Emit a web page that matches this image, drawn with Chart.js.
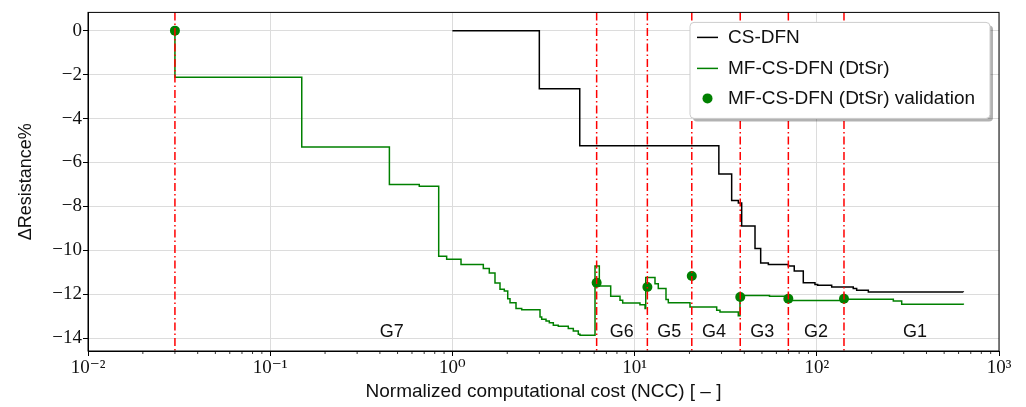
<!DOCTYPE html>
<html lang="en">
<head>
    <meta charset="UTF-8">
    <title>Resistance vs NCC</title>
    <script src="https://cdn.jsdelivr.net/npm/chart.js@4.4.0/dist/chart.umd.min.js"></script>
    <style>
        html, body { margin: 0; padding: 0; background: #fff; }
    </style>
</head>
<body>
<canvas id="myChart" width="1026" height="407"></canvas>
<script>
    // CS-DFN reference curve (value changes to y at x)
    var csX = [1.0, 3.0, 5.0, 29.0, 34.1, 37.1, 38.7, 45.8, 49.2, 54.2, 69.8, 75.2, 84.3, 97.7, 101.1, 120.7, 158.5, 165.5, 191.8, 637];
    var csY = [0, -2.65, -5.24, -6.52, -7.73, -7.85, -8.89, -9.92, -10.58, -10.64, -10.71, -10.94, -11.47, -11.55, -11.59, -11.67, -11.74, -11.82, -11.89, -11.9];

    // MF-CS-DFN (DtSr)
    var mfX = [0.030, 0.030, 0.149, 0.451, 0.658, 0.841, 0.930, 1.115, 1.478, 1.594, 1.713, 1.825, 1.927, 2.012, 2.071, 2.234, 2.401,
        3.026, 3.091, 3.265, 3.403, 3.580, 3.813, 4.326, 4.609, 4.909, 5.015, 6.064, 6.403, 7.393, 8.316, 8.604, 10.70, 11.41, 11.51,
        12.94, 13.49, 14.87, 15.31, 20.14, 28.22, 29.42, 37.08, 37.88, 55.0, 69.76, 141.0, 263.0, 292.4, 637];
    var mfY = [0, -2.12, -5.30, -7.00, -7.08, -10.27, -10.41, -10.64, -10.83, -11.03, -11.48, -11.77, -11.85, -12.20, -12.38, -12.65, -12.70,
        -13.03, -13.14, -13.21, -13.30, -13.41, -13.45, -13.56, -13.67, -13.82, -13.86, -10.71, -11.62, -12.09, -12.27, -12.39, -12.47, -12.65, -11.24,
        -11.52, -11.74, -12.24, -12.38, -12.58, -12.73, -12.80, -12.98, -12.05, -12.09, -12.28, -12.23, -12.30, -12.45, -12.48];

    // validation points
    var valX = [0.030, 6.19, 11.75, 20.6, 38.0, 69.8, 141];
    var valY = [0, -11.47, -11.67, -11.17, -12.12, -12.20, -12.20];

    // fidelity switch boundaries and group labels
    var stageX = [0.030, 6.19, 11.75, 20.6, 38.0, 69.8, 141];
    var groupNames = ['G7', 'G6', 'G5', 'G4', 'G3', 'G2', 'G1'];
    var groupX = [0.464, 8.50, 15.5, 27.3, 50.2, 99.0, 346];
    var groupY = -13.71;

    var xTickValues = [0.01, 0.1, 1, 10, 100, 1000];
    var xTickLabels = ['10\u207B\u00B2', '10\u207B\u00B9', '10\u2070', '10\u00B9', '10\u00B2', '10\u00B3'];
    var yTickValues = [0, -2, -4, -6, -8, -10, -12, -14];

    var sans = '"Liberation Sans", Arial, sans-serif';
    var serif = '"Liberation Serif", "DejaVu Serif", serif';

    function pts(xs, ys) {
        return xs.map(function (v, i) { return {x: v, y: ys[i]}; });
    }

    var frameAndStages = {
        id: 'frameAndStages',
        afterDatasetsDraw: function (chart) {
            var ctx = chart.ctx, a = chart.chartArea, x = chart.scales.x, y = chart.scales.y;
            ctx.save();
            // minor ticks on the log axis
            ctx.strokeStyle = '#000';
            ctx.lineWidth = 0.8;
            for (var d = 0; d < xTickValues.length - 1; d++) {
                for (var k = 2; k < 10; k++) {
                    var px = x.getPixelForValue(xTickValues[d] * k);
                    ctx.beginPath();
                    ctx.moveTo(px, a.bottom);
                    ctx.lineTo(px, a.bottom + 3);
                    ctx.stroke();
                }
            }
            // red dash-dot lines
            ctx.strokeStyle = 'red';
            ctx.lineWidth = 1.5;
            ctx.setLineDash([8, 3, 1.5, 3]);
            stageX.forEach(function (v) {
                var px = x.getPixelForValue(v);
                ctx.beginPath();
                ctx.moveTo(px, a.top);
                ctx.lineTo(px, a.bottom);
                ctx.stroke();
            });
            ctx.setLineDash([]);
            // group names
            ctx.fillStyle = '#111';
            ctx.font = '18px ' + sans;
            ctx.textAlign = 'center';
            ctx.textBaseline = 'middle';
            groupNames.forEach(function (g, i) {
                ctx.fillText(g, x.getPixelForValue(groupX[i]), y.getPixelForValue(groupY));
            });
            // box
            ctx.strokeStyle = '#000';
            ctx.lineWidth = 1;
            ctx.strokeRect(a.left, a.top, a.right - a.left, a.bottom - a.top);
            ctx.restore();
        }
    };

    var boxLegend = {
        id: 'boxLegend',
        afterDraw: function (chart) {
            var ctx = chart.ctx, a = chart.chartArea;
            var bx = a.right - 309, by = a.top + 10, bw = 300, bh = 96;
            ctx.save();
            ctx.fillStyle = 'rgba(0,0,0,0.3)';
            ctx.beginPath();
            ctx.roundRect(bx + 3, by + 3, bw, bh, 4);
            ctx.fill();
            ctx.fillStyle = '#fff';
            ctx.strokeStyle = '#cccccc';
            ctx.lineWidth = 1;
            ctx.beginPath();
            ctx.roundRect(bx, by, bw, bh, 4);
            ctx.fill();
            ctx.stroke();
            ctx.font = '19px ' + sans;
            ctx.textBaseline = 'middle';
            ctx.textAlign = 'left';
            var rows = [15, 46, 76];
            chart.data.datasets.forEach(function (ds, i) {
                var ry = by + rows[i];
                if (ds.showLine === false) {
                    ctx.fillStyle = ds.backgroundColor;
                    ctx.beginPath();
                    ctx.arc(bx + 17.5, ry, 5, 0, Math.PI * 2);
                    ctx.fill();
                } else {
                    ctx.strokeStyle = ds.borderColor;
                    ctx.lineWidth = ds.borderWidth;
                    ctx.beginPath();
                    ctx.moveTo(bx + 7, ry);
                    ctx.lineTo(bx + 28, ry);
                    ctx.stroke();
                }
                ctx.fillStyle = '#111';
                ctx.fillText(ds.label, bx + 38, ry);
            });
            ctx.restore();
        }
    };

    var ctx = document.querySelector('#myChart').getContext('2d');
    new Chart(ctx, {
        type: 'line',
        data: {
            datasets: [{
                label: 'CS-DFN',
                data: pts(csX, csY),
                borderColor: '#000',
                borderWidth: 1.5,
                stepped: 'before',
                pointRadius: 0,
                fill: false
            }, {
                label: 'MF-CS-DFN (DtSr)',
                data: pts(mfX, mfY),
                borderColor: 'green',
                borderWidth: 1.5,
                stepped: 'before',
                pointRadius: 0,
                fill: false
            }, {
                label: 'MF-CS-DFN (DtSr) validation',
                data: pts(valX, valY),
                showLine: false,
                backgroundColor: 'green',
                borderColor: 'green',
                pointRadius: 5,
                pointBorderWidth: 0
            }]
        },
        options: {
            responsive: false,
            animation: false,
            devicePixelRatio: 1,
            layout: {padding: {left: 0, right: 27, top: 12, bottom: 0}},
            plugins: {legend: {display: false}, tooltip: {enabled: false}},
            scales: {
                x: {
                    type: 'logarithmic',
                    min: 0.01,
                    max: 1000,
                    afterBuildTicks: function (scale) {
                        scale.ticks = xTickValues.map(function (v) { return {value: v, major: true}; });
                    },
                    afterFit: function (scale) { scale.height = 56; },
                    ticks: {
                        autoSkip: false,
                        maxRotation: 0,
                        padding: 1,
                        color: '#111',
                        font: {family: serif, size: 19},
                        callback: function (v) {
                            var i = xTickValues.indexOf(v);
                            return i >= 0 ? xTickLabels[i] : '';
                        }
                    },
                    grid: {color: '#dcdcdc', lineWidth: 1, tickColor: '#000', tickLength: 5},
                    border: {color: '#000', width: 1},
                    title: {
                        display: true,
                        text: 'Normalized computational cost (NCC) [ \u2013 ]',
                        color: '#111',
                        font: {family: sans, size: 19},
                        padding: {top: 0, bottom: 4}
                    }
                },
                y: {
                    min: -14.58,
                    max: 0.83,
                    afterBuildTicks: function (scale) {
                        scale.ticks = yTickValues.map(function (v) { return {value: v}; });
                    },
                    afterFit: function (scale) { scale.width = 88; },
                    ticks: {
                        padding: 1,
                        color: '#111',
                        font: {family: serif, size: 19},
                        callback: function (v) { return v < 0 ? '\u2212' + Math.abs(v) : String(v); }
                    },
                    grid: {color: '#dcdcdc', lineWidth: 1, tickColor: '#000', tickLength: 5},
                    border: {color: '#000', width: 1},
                    title: {
                        display: true,
                        text: '\u0394Resistance%',
                        color: '#111',
                        font: {family: sans, size: 18},
                        padding: {top: 15, bottom: 0}
                    }
                }
            }
        },
        plugins: [frameAndStages, boxLegend]
    });
</script>
</body>
</html>
